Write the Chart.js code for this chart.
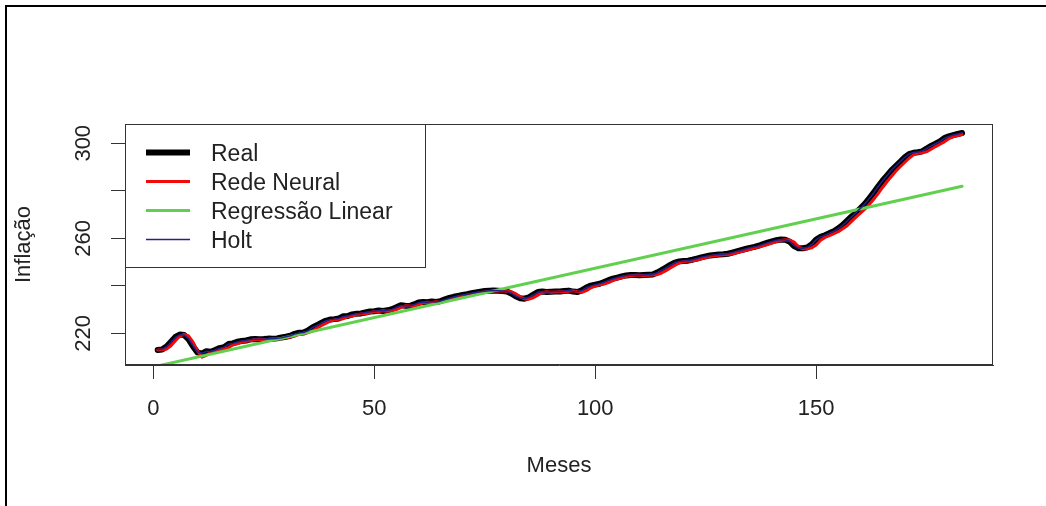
<!DOCTYPE html>
<html>
<head>
<meta charset="utf-8">
<title>Inflação</title>
<script src="https://cdn.jsdelivr.net/npm/chart.js@4.4.1/dist/chart.umd.min.js"></script>
<style>
  html, body { margin: 0; padding: 0; background: #fff; }
  #wrap { position: relative; width: 1046px; height: 506px; overflow: hidden; }
  #frame { position: absolute; left: 5px; top: 5px; width: 1060px; height: 520px;
           border-left: 2px solid #000; border-top: 2px solid #000; pointer-events: none; }
</style>
</head>
<body>
<div id="wrap">
  <canvas id="inflacaoChart" width="1046" height="506"></canvas>
  <div id="frame"></div>
</div>
<script>
// monthly index values (months 1..183)
const real = [
  213.0,213.2,214.5,216.5,218.5,219.5,219.3,217.5,214.5,212.0,
  211.5,212.5,212.3,213.0,213.8,214.2,215.5,215.8,216.5,216.8,
  217.0,217.5,217.6,217.5,217.6,217.8,217.7,217.9,218.3,218.6,
  219.0,219.8,220.3,220.4,221.2,222.5,223.4,224.4,225.3,225.8,
  226.0,226.3,227.2,227.3,228.0,228.3,228.4,228.8,229.2,229.3,
  229.6,229.4,229.7,230.2,231.0,231.8,231.6,231.5,232.2,233.0,
  233.2,233.1,233.4,233.2,233.6,234.3,234.9,235.4,235.8,236.2,
  236.5,236.9,237.2,237.5,237.8,237.9,238.0,237.9,237.8,237.6,
  236.8,235.6,234.8,234.6,235.2,236.3,237.4,237.6,237.4,237.5,
  237.6,237.6,237.8,238.0,237.6,237.4,238.2,239.3,240.1,240.5,
  240.9,241.6,242.4,243.0,243.5,244.0,244.4,244.6,244.6,244.5,
  244.6,244.7,244.8,245.6,246.6,247.7,248.8,249.8,250.3,250.5,
  250.6,251.0,251.5,252.0,252.4,252.8,253.0,253.2,253.3,253.5,
  254.0,254.5,255.0,255.5,256.0,256.4,256.9,257.6,258.2,258.7,
  259.2,259.5,259.4,258.6,256.7,255.8,255.8,256.2,257.5,259.5,
  260.6,261.3,262.2,263.0,264.2,265.6,267.4,269.2,270.8,272.6,
  274.5,276.8,279.2,281.8,284.2,286.4,288.6,290.4,292.2,294.0,
  295.4,296.0,296.2,296.6,297.8,298.9,299.8,300.8,302.2,302.9,
  303.4,303.9,304.3
];

const redeNeural = [
  213.0,213.1,213.4,214.8,216.9,218.8,219.6,218.9,216.3,212.6,
  210.0,210.8,212.0,212.2,212.9,213.6,214.0,215.2,215.6,216.3,
  216.7,216.9,217.4,217.5,217.4,217.5,217.7,217.6,217.8,218.2,
  218.5,218.9,219.6,220.1,220.3,221.0,222.2,223.2,224.2,225.1,
  225.7,225.9,226.2,227.0,227.2,227.9,228.2,228.3,228.7,229.1,
  229.2,229.5,229.3,229.6,230.0,230.8,231.6,231.5,231.4,232.0,
  232.8,233.1,233.0,233.3,233.1,233.5,234.1,234.7,235.2,235.7,
  236.1,236.4,236.8,237.1,237.4,237.7,237.8,237.9,237.8,237.7,
  237.5,236.7,235.4,234.5,234.4,235.0,236.1,237.2,237.5,237.3,
  237.4,237.5,237.5,237.7,237.9,237.5,237.3,238.0,239.1,239.9,
  240.4,240.8,241.4,242.2,242.9,243.4,243.9,244.3,244.5,244.5,
  244.4,244.5,244.6,244.7,245.4,246.4,247.5,248.6,249.6,250.2,
  250.4,250.5,250.9,251.4,251.9,252.3,252.7,252.9,253.1,253.2,
  253.4,253.9,254.4,254.9,255.4,255.9,256.3,256.8,257.4,258.0,
  258.6,259.1,259.4,259.3,258.4,256.4,255.5,255.6,256.0,257.2,
  259.2,260.4,261.1,262.0,262.8,264.0,265.3,267.1,268.9,270.6,
  272.3,274.2,276.4,278.8,281.4,283.8,286.0,288.2,290.1,291.9,
  293.7,295.1,295.8,296.0,296.4,297.5,298.6,299.6,300.6,301.9,
  302.7,303.2,303.7
];

const holt = [
  213.1,213.3,214.4,216.3,218.3,219.4,219.3,217.7,214.8,212.3,
  211.6,212.4,212.4,213.0,213.7,214.2,215.4,215.8,216.4,216.8,
  217.0,217.4,217.6,217.5,217.6,217.7,217.7,217.9,218.2,218.6,
  219.0,219.7,220.2,220.4,221.1,222.4,223.3,224.3,225.2,225.8,
  226.0,226.3,227.1,227.3,227.9,228.3,228.4,228.8,229.1,229.3,
  229.6,229.4,229.7,230.1,230.9,231.7,231.6,231.5,232.1,232.9,
  233.2,233.1,233.4,233.2,233.6,234.2,234.8,235.3,235.8,236.2,
  236.5,236.9,237.2,237.5,237.7,237.9,238.0,237.9,237.8,237.6,
  236.9,235.7,234.9,234.7,235.2,236.2,237.3,237.6,237.4,237.5,
  237.6,237.6,237.8,238.0,237.7,237.5,238.1,239.2,240.0,240.5,
  240.9,241.5,242.3,243.0,243.5,244.0,244.4,244.6,244.6,244.5,
  244.6,244.7,244.8,245.5,246.5,247.6,248.7,249.7,250.3,250.5,
  250.6,251.0,251.5,252.0,252.4,252.8,253.0,253.2,253.3,253.5,
  254.0,254.5,255.0,255.5,256.0,256.4,256.9,257.5,258.1,258.7,
  259.2,259.5,259.4,258.7,256.9,255.9,255.8,256.2,257.4,259.4,
  260.6,261.3,262.2,263.0,264.1,265.5,267.3,269.1,270.8,272.6,
  274.4,276.7,279.1,281.7,284.1,286.3,288.5,290.4,292.2,294.0,
  295.4,296.1,296.3,296.7,297.8,298.9,299.8,300.8,302.1,302.9,
  303.5,303.9,304.4
];

// straight regression line: its two end points
const regressaoMeses = [1, 183];
const regressaoValores = [206.3, 281.9];

const xTicks = [0, 50, 100, 150];
const yTicks = [220, 240, 260, 280, 300];
const yTickLabels = ["220", "", "260", "", "300"];

const legendLabels = ["Real", "Rede Neural", "Regressão Linear", "Holt"];
const seriesColors = ["#000000", "#f00a0a", "#61d04f", "#22228f"];
const seriesWidths = [6, 3, 3, 1.5];

const FONT = { family: "'Liberation Sans', Arial, sans-serif", size: 22 };
const TEXT = "#222";

const toPoints = vals => vals.map((v, i) => ({ x: i + 1, y: v }));

// plot box, legend and rotated y tick labels (R style)
const rStyle = {
    id: "rStyle",
    afterDraw(chart) {
        const { ctx, chartArea: a, scales } = chart;
        ctx.save();
        ctx.strokeStyle = "#333";
        ctx.lineWidth = 1;
        ctx.strokeRect(a.left + 0.5, a.top + 0.5, a.right - a.left - 1, a.bottom - a.top - 1);

        // y tick labels, rotated
        ctx.fillStyle = TEXT;
        ctx.font = `${FONT.size}px ${FONT.family}`;
        ctx.textAlign = "center";
        ctx.textBaseline = "alphabetic";
        yTicks.forEach((v, i) => {
            if (!yTickLabels[i]) return;
            const y = scales.y.getPixelForValue(v);
            ctx.save();
            ctx.translate(90, y);
            ctx.rotate(-Math.PI / 2);
            ctx.fillText(yTickLabels[i], 0, 0);
            ctx.restore();
        });

        // legend box, top left
        const lx = a.left, ly = a.top;
        ctx.fillStyle = "#fff";
        ctx.fillRect(lx + 1, ly + 1, 299, 142);
        ctx.strokeStyle = "#333";
        ctx.lineWidth = 1;
        ctx.strokeRect(lx + 0.5, ly + 0.5, 300, 143);
        ctx.textAlign = "left";
        ctx.font = `23px ${FONT.family}`;
        legendLabels.forEach((label, i) => {
            const rowY = ly + 28.5 + i * 29;
            ctx.strokeStyle = seriesColors[i];
            ctx.lineWidth = seriesWidths[i];
            ctx.lineCap = "butt";
            ctx.beginPath();
            ctx.moveTo(lx + 21, rowY);
            ctx.lineTo(lx + 65, rowY);
            ctx.stroke();
            ctx.fillStyle = TEXT;
            ctx.fillText(label, lx + 86, rowY + 8.5);
        });
        ctx.restore();
    }
};

const ctx = document.getElementById("inflacaoChart").getContext("2d");

new Chart(ctx, {
    type: "line",
    data: {
        datasets: [
            { label: "Real", data: toPoints(real), borderColor: seriesColors[0], borderWidth: seriesWidths[0], order: 4 },
            { label: "Rede Neural", data: toPoints(redeNeural), borderColor: seriesColors[1], borderWidth: seriesWidths[1], order: 3 },
            { label: "Regressão Linear", data: regressaoMeses.map((m, i) => ({ x: m, y: regressaoValores[i] })),
              borderColor: seriesColors[2], borderWidth: seriesWidths[2], order: 2 },
            { label: "Holt", data: toPoints(holt), borderColor: seriesColors[3], borderWidth: seriesWidths[3], order: 1 }
        ].map(d => Object.assign(d, {
            pointRadius: 0, tension: 0, fill: false, clip: 0,
            borderJoinStyle: "round", borderCapStyle: "round"
        }))
    },
    options: {
        responsive: false,
        devicePixelRatio: 1,
        animation: false,
        events: [],
        layout: { padding: { top: 124, right: 53, left: 0, bottom: 0 } },
        plugins: { legend: { display: false }, tooltip: { enabled: false } },
        scales: {
            x: {
                type: "linear", min: -6.4, max: 190,
                afterBuildTicks: s => { s.ticks = xTicks.map(v => ({ value: v })); },
                afterFit: s => { s.height = 141; },
                grid: { drawOnChartArea: false, drawTicks: true, tickLength: 14, color: "#333" },
                border: { display: true, color: "#333" },
                ticks: { font: FONT, color: TEXT, padding: 17, maxRotation: 0, autoSkip: false },
                title: { display: true, text: "Meses", font: FONT, color: TEXT, padding: { top: 0, bottom: 27 } }
            },
            y: {
                type: "linear", min: 206.7, max: 308.1,
                afterBuildTicks: s => { s.ticks = yTicks.map(v => ({ value: v })); },
                afterFit: s => { s.width = 125; },
                grid: { drawOnChartArea: false, drawTicks: true, tickLength: 14, color: "#333" },
                border: { display: true, color: "#333" },
                ticks: { display: false },
                title: { display: true, text: "Inflação", font: FONT, color: TEXT, padding: { top: 11, bottom: 0 } }
            }
        }
    },
    plugins: [rStyle]
});
</script>
</body>
</html>
